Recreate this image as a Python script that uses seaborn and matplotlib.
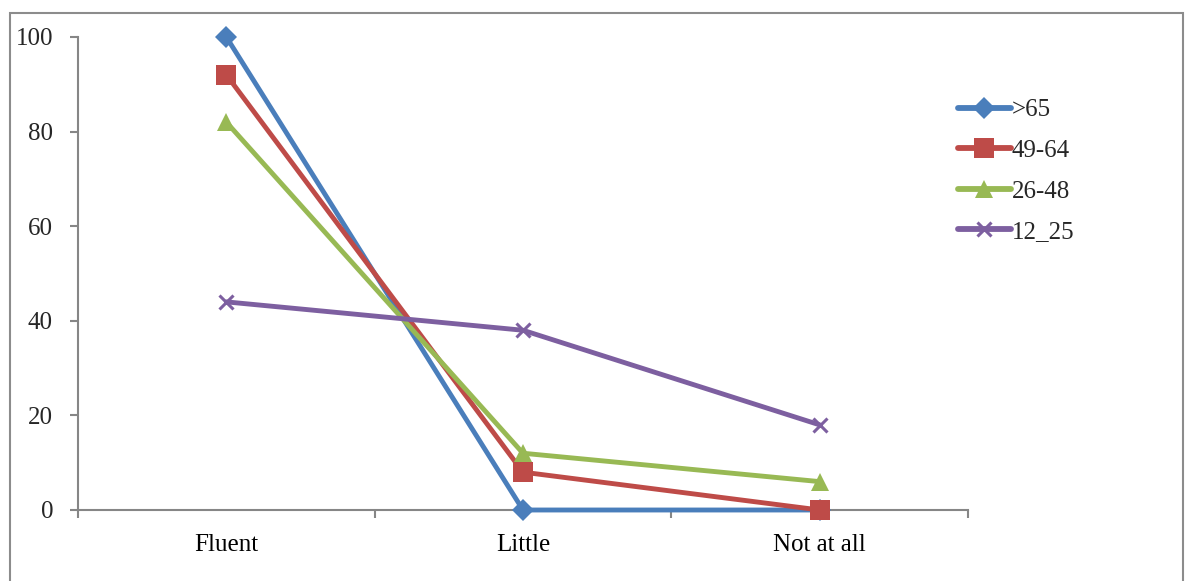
import matplotlib
matplotlib.use("Agg")
import matplotlib.pyplot as plt
import seaborn as sns
import pandas as pd
from matplotlib.patches import Rectangle
from matplotlib.ticker import FixedLocator

categories = ["Fluent", "Little", "Not at all"]
series_names = [">65", "49-64", "26-48", "12_25"]
vals_over65 = [100, 0, 0]
vals_49_64 = [92, 8, 0]
vals_26_48 = [82, 12, 6]
vals_12_25 = [44, 38, 18]
y_ticks = [0, 20, 40, 60, 80, 100]

colors = {">65": "#4A7EBB", "49-64": "#BE4B48", "26-48": "#98B954", "12_25": "#7D5FA0"}
markers = {">65": "D", "49-64": "s", "26-48": "^", "12_25": "x"}
msizes = {">65": 11, "49-64": 14, "26-48": 13, "12_25": 10}

rows = []
for name, vals in zip(series_names, [vals_over65, vals_49_64, vals_26_48, vals_12_25]):
    for c, v in zip(categories, vals):
        rows.append({"cat": c, "value": v, "series": name})
df = pd.DataFrame(rows)
df["x"] = [categories.index(c) for c in df["cat"]]

sns.set_style("white")
plt.rcParams["font.family"] = ["Liberation Serif", "DejaVu Serif"]

fig = plt.figure(figsize=(11.87, 5.81), dpi=100)
W, H = 1187, 581
ax = fig.add_axes([78 / W, 1 - 510 / H, (968 - 78) / W, (510 - 37) / H])

# outer border
fig.patches.append(Rectangle((10 / W, -0.05), (1183 - 10) / W, 1 - 13 / H + 0.05,
                             transform=fig.transFigure, fill=False,
                             edgecolor="#8C8C8C", linewidth=1.5))

for name in series_names:
    sub = df[df["series"] == name]
    m = markers[name]
    sns.lineplot(data=sub, x="x", y="value", ax=ax, color=colors[name], marker=m,
                 markersize=msizes[name], linewidth=3.5,
                 markeredgewidth=2.2 if m == "x" else 0,
                 markeredgecolor=colors[name], label=name, sort=False, legend=False,
                 clip_on=False)

ax.set_xlim(-0.5, 2.5)
ax.set_ylim(0, 100)
ax.set_xlabel("")
ax.set_ylabel("")
ax.set_yticks(y_ticks)
ax.set_yticklabels([str(t) for t in y_ticks])
ax.set_xticks(range(len(categories)))
ax.set_xticklabels(categories)
ax.xaxis.set_minor_locator(FixedLocator([-0.5, 0.5, 1.5, 2.5]))
ax.tick_params(axis="x", which="major", length=0, pad=17, labelsize=18, colors="black")
ax.tick_params(axis="x", which="minor", length=6, width=1.5, color="#868686", direction="out", bottom=True)
ax.tick_params(axis="y", length=6, width=1.5, color="#868686", direction="out", pad=12,
               labelsize=18, left=True)
for s in ["top", "right"]:
    ax.spines[s].set_visible(False)
for s in ["left", "bottom"]:
    ax.spines[s].set_color("#868686")
    ax.spines[s].set_linewidth(1.5)
for line in ax.get_lines():
    line.set_zorder(3)

handles, labels = ax.get_legend_handles_labels()
hmap = dict(zip(labels, handles))
leg = fig.legend([hmap[n] for n in series_names], series_names,
                 loc="upper left", bbox_to_anchor=(948 / W, 1 - 89 / H),
                 frameon=False, fontsize=18, handlelength=2.1, handletextpad=0.05,
                 labelspacing=0.72, borderaxespad=0)
for h in leg.legend_handles:
    h.set_linewidth(4.2)

fig.savefig("out.png", dpi=100)
